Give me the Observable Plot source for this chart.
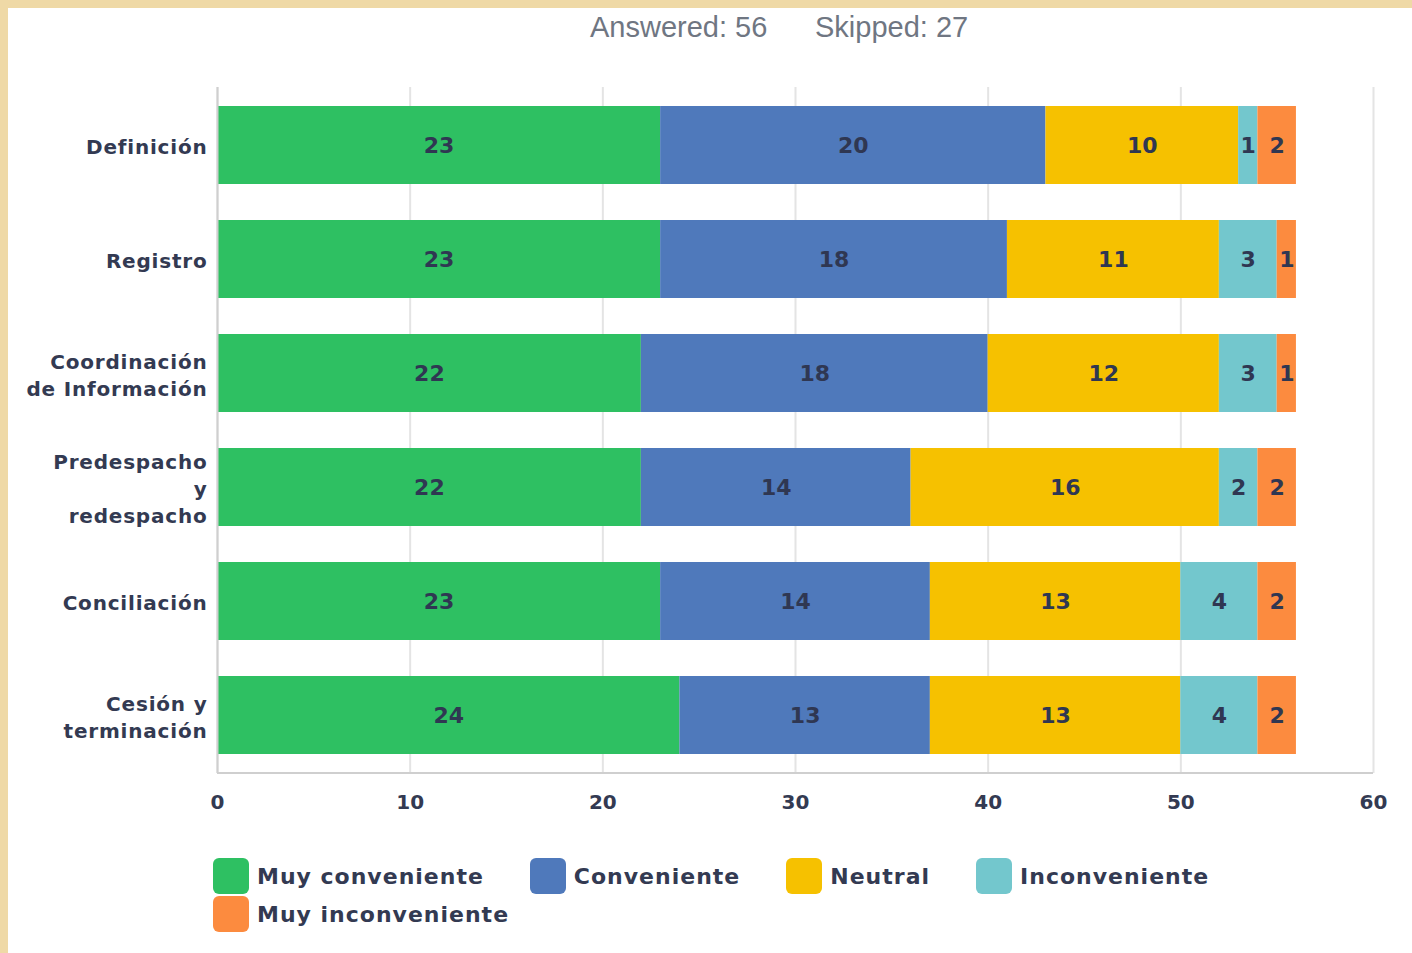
<!DOCTYPE html>
<html>
<head>
<meta charset="utf-8">
<script src="https://cdn.jsdelivr.net/npm/d3@7"></script>
<script src="https://cdn.jsdelivr.net/npm/@observablehq/plot@0.6"></script>
<style>
  html, body { margin: 0; padding: 0; }
  body { width: 1412px; height: 953px; background: #efd9a6; position: relative; overflow: hidden; }
  #panel { position: absolute; left: 8px; top: 8px; width: 1404px; height: 945px; background: #ffffff; }
  #header { position: absolute; top: 11px; left: 0; width: 1412px; font-family: "Liberation Sans", Arial, sans-serif; font-size: 29px; color: #6f7682; }
  #header span { position: absolute; top: 0; white-space: nowrap; }
  #chart { position: absolute; left: 0; top: 0; }
  #legend { position: absolute; left: 213px; top: 858px; width: 1060px; display: flex; flex-wrap: wrap; column-gap: 46px; row-gap: 2px;
            font-family: "DejaVu Sans", sans-serif; font-weight: bold; font-size: 22px; letter-spacing: 1px; color: #333a52; }
  .item { display: flex; align-items: center; height: 36px; }
  .sw { width: 36px; height: 36px; border-radius: 6px; margin-right: 8px; }
  #chart svg g[aria-label="y-axis tick label"] text { letter-spacing: 0.8px; }
</style>
</head>
<body>
<div id="panel"></div>
<div id="header"></div>
<div id="chart"></div>
<div id="legend"></div>
<script>
const headerTexts = ["Answered: 56", "Skipped: 27"];
const categories = ["Definición", "Registro", "Coordinación\nde Información", "Predespacho\ny\nredespacho", "Conciliación", "Cesión y\nterminación"];
const seriesNames = ["Muy conveniente", "Conveniente", "Neutral", "Inconveniente", "Muy inconveniente"];
const seriesColors = ["#2ec062", "#4f79bb", "#f6c100", "#73c7cd", "#fc8b3f"];
const muyConveniente   = [23, 23, 22, 22, 23, 24];
const conveniente      = [20, 18, 18, 14, 14, 13];
const neutral          = [10, 11, 12, 16, 13, 13];
const inconveniente    = [1, 3, 3, 2, 4, 4];
const muyInconveniente = [2, 1, 1, 2, 2, 2];
const xTicks = [0, 10, 20, 30, 40, 50, 60];

const seriesValues = [muyConveniente, conveniente, neutral, inconveniente, muyInconveniente];
const data = [];
categories.forEach((c, i) => {
  seriesNames.forEach((s, j) => data.push({cat: c, series: s, value: seriesValues[j][i]}));
});

// header
const header = document.getElementById("header");
const headerLefts = [590, 815];
headerTexts.forEach((t, i) => {
  const sp = document.createElement("span");
  sp.textContent = t;
  sp.style.left = headerLefts[i] + "px";
  header.appendChild(sp);
});

const font = "DejaVu Sans, sans-serif";
const plot = Plot.plot({
  width: 1412,
  height: 830,
  marginLeft: 217,
  marginRight: 39,
  marginTop: 87,
  marginBottom: 57,
  style: {background: "transparent", fontFamily: font},
  x: {domain: [0, 60], ticks: xTicks},
  y: {domain: categories, paddingInner: 0.32, paddingOuter: 0.16},
  color: {domain: seriesNames, range: seriesColors},
  marks: [
    Plot.gridX(xTicks, {stroke: "#e4e4e4", strokeOpacity: 1, strokeWidth: 2}),
    Plot.barX(data, Plot.stackX({x: "value", y: "cat", fill: "series", z: "series", order: seriesNames})),
    Plot.text(data, Plot.stackX({x: "value", y: "cat", z: "series", order: seriesNames, text: "value",
      fill: "#2f3752", fontSize: 22, fontWeight: "bold", fontFamily: font})),
    Plot.axisX({ticks: xTicks, tickSize: 0, tickPadding: 21, fontSize: 20, fontWeight: "bold", fill: "#333a52", label: null, fontFamily: font}),
    Plot.axisY({tickSize: 0, tickPadding: 10, fontSize: 20, fontWeight: "bold", fill: "#333a52", label: null, lineHeight: 1.35, fontFamily: font}),
    Plot.ruleX([0], {stroke: "#cfcfcf", strokeWidth: 2})
  ]
});
document.getElementById("chart").appendChild(plot);

// bottom axis line
const svg = d3.select(plot);
const xs = plot.scale("x");
svg.append("line")
  .attr("x1", xs.apply(0)).attr("x2", xs.apply(60))
  .attr("y1", 830 - 57).attr("y2", 830 - 57)
  .attr("stroke", "#cfcfcf").attr("stroke-width", 2);

// legend
const legend = document.getElementById("legend");
seriesNames.forEach((s, i) => {
  const it = document.createElement("div");
  it.className = "item";
  const sw = document.createElement("div");
  sw.className = "sw";
  sw.style.background = seriesColors[i];
  const tx = document.createElement("span");
  tx.textContent = s;
  it.appendChild(sw);
  it.appendChild(tx);
  legend.appendChild(it);
});
</script>
</body>
</html>
